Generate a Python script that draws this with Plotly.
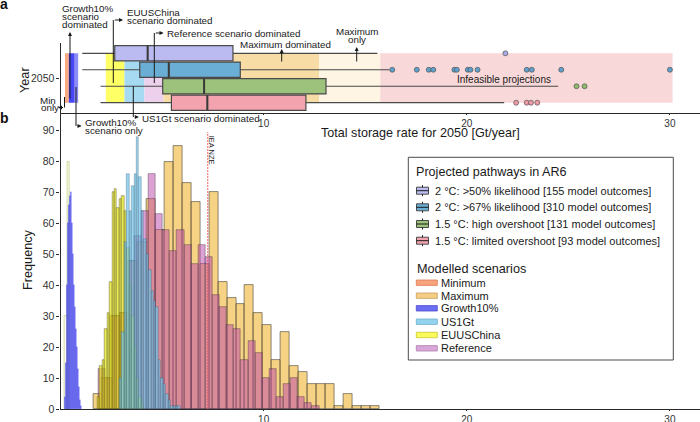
import numpy as np
import plotly.graph_objects as go

W, H = 700, 422
FONT = "Liberation Sans, Arial, Helvetica, sans-serif"

# ---------------- panel b: histogram data (bin start, bin width, counts) ----------------
min_start, min_width = 0.22, 0.10
min_counts = [30, 80]

max_start, max_width = 1.60, 0.44
max_counts = [5, 10, 30, 31, 48, 54, 68, 58, 80, 85, 73, 67, 47, 70, 41, 36,
              34, 40, 31, 27, 16, 25, 14, 12, 8, 8, 8, 1, 5, 1, 1, 1]

ref_start, ref_width = 1.88, 0.35
ref_counts = [13, 10, 30, 31, 48, 56, 64, 76, 63, 58, 51, 58, 53, 47, 53, 49,
              37, 33, 27, 26, 16, 22, 18, 10, 13, 4, 8, 10, 4, 2, 1]

euus_start, euus_width = 1.82, 0.12
euus_counts = [4, 14, 16, 26, 31, 41, 70, 71, 65, 68, 69, 64, 52, 40, 30, 20, 10, 4, 2]

us1_start, us1_width = 2.90, 0.12
us1_counts = [10, 25, 54, 76, 64, 72, 76, 88, 75, 64, 55, 50, 45, 38, 35, 33,
              16, 10, 8, 5, 3, 1, 1, 1, 1]

g10_start, g10_width = 0.20, 0.05
g10_counts = [4, 15, 40, 60, 66, 69, 70, 60, 50, 40, 33, 26, 20, 13, 7, 3, 1]

iea_nze = 7.25

# ---------------- panel a: box plot data ----------------
box_labels = ["2 \u00b0C: >50% likelihood [155 model outcomes]",
              "2 \u00b0C: >67% likelihood [310 model outcomes]",
              "1.5 \u00b0C: high overshoot [131 model outcomes]",
              "1.5 \u00b0C: limited overshoot [93 model outcomes]"]
box_pos = [4, 3, 2, 1]
box_q1 = [2.67, 3.90, 5.03, 5.46]
box_med = [4.29, 5.33, 7.07, 7.23]
box_q3 = [8.49, 8.85, 13.07, 12.08]
box_lo = [1.07, 1.07, 1.97, 1.97]
box_hi = [15.6, 16.2, 24.5, 21.84]
box_out = [[21.9],
           [16.33, 17.54, 18.13, 18.35, 19.39, 19.51, 20.05, 20.18, 20.53, 22.95, 23.2, 24.65, 30.0],
           [25.4, 25.8],
           [22.43, 22.95, 23.16, 23.47]]

# shaded regions in panel a
reg_lo = [0.22, 0.41, 0.70, 2.23, 3.15, 4.13, 5.07, 12.74, 15.74]
reg_hi = [0.41, 0.70, 0.87, 3.15, 4.13, 5.07, 12.74, 15.74, 30.13]
reg_y = [1, 4]

scen_names = ["Minimum", "Maximum", "Growth10%", "US1Gt", "EUUSChina", "Reference"]

# ---------------- styles ----------------
reg_colors = ["#F8AA80", "#4646F5", "#8C8CF7", "#FFFF66", "#A6DAF2",
              "#ECD0EC", "#F7DCA6", "#FEF5E4", "#F8D8D8"]
box_fill = ["#BBBBF2", "#6AAED6", "#9CC27B", "#F3A3AE"]
out_fill = ["#A9A9E8", "#5E9FCC", "#8DBA6A", "#EE9AA6"]
scen_patch = ["#F7A47C", "#F5CE85", "#6E6EF2", "#93D3EE", "#FAFA5A", "#D9A6D9"]
scen_edge = ["#E07A50", "#C9A060", "#4A4AD0", "#6AAFCF", "#C8C830", "#B080B0"]


def PX(x):
    return x / W


def PY(y):
    return 1 - y / H


fig = go.Figure()


def add_hist(start, width, counts, fill, line, lw):
    c = np.asarray(counts, dtype=float)
    centers = start + width * (np.arange(len(c)) + 0.5)
    fig.add_trace(go.Bar(x=centers, y=c, width=width, xaxis="x", yaxis="y",
                         marker=dict(color=fill, line=dict(color=line, width=lw)),
                         showlegend=False, hoverinfo="skip"))


add_hist(min_start, min_width, min_counts, "rgba(250,160,110,0.06)", "rgba(185,210,120,0.9)", 0.8)
add_hist(max_start, max_width, max_counts, "rgba(240,180,50,0.6)", "rgba(40,40,40,0.65)", 0.8)
add_hist(ref_start, ref_width, ref_counts, "rgba(188,70,170,0.5)", "rgba(50,40,50,0.55)", 0.7)
add_hist(euus_start, euus_width, euus_counts, "rgba(225,225,20,0.7)", "rgba(50,50,10,0.6)", 0.6)
add_hist(us1_start, us1_width, us1_counts, "rgba(110,195,235,0.7)", "rgba(40,60,80,0.55)", 0.5)
add_hist(g10_start, g10_width, g10_counts, "rgba(50,50,240,0.72)", "rgba(60,60,230,0.6)", 0.3)

# IEA NZE line
fig.add_shape(type="line", xref="x", yref="y", x0=iea_nze, x1=iea_nze, y0=0, y1=89.5,
              line=dict(color="rgba(235,80,80,0.9)", width=1, dash="2px,1px"))
fig.add_annotation(x=iea_nze, xref="x", xshift=4.5, y=PY(150), yref="paper", text="IEA NZE",
                   textangle=90, showarrow=False, font=dict(size=7.5, color="#222"))

# shaded regions panel a
for lo, hi, col in zip(reg_lo, reg_hi, reg_colors):
    fig.add_shape(type="rect", xref="x2", yref="y2", x0=lo, x1=hi, y0=reg_y[0], y1=reg_y[1],
                  fillcolor=col, line=dict(width=0), layer="below")

# boxes
BW = 0.93
for i in range(4):
    fig.add_trace(go.Box(orientation="h", y=[box_pos[i]], q1=[box_q1[i]], median=[box_med[i]],
                         q3=[box_q3[i]], lowerfence=[box_lo[i]], upperfence=[box_hi[i]],
                         xaxis="x2", yaxis="y2", width=BW, whiskerwidth=0,
                         fillcolor=box_fill[i], line=dict(color="#4a4a4a", width=1.2),
                         boxpoints=False, showlegend=False, hoverinfo="skip"))
    fig.add_trace(go.Scatter(x=[box_med[i], box_med[i]],
                             y=[box_pos[i] - BW / 2, box_pos[i] + BW / 2],
                             mode="lines", line=dict(color="#3a3a3a", width=2),
                             xaxis="x2", yaxis="y2", showlegend=False, hoverinfo="skip"))
    fig.add_trace(go.Scatter(x=box_out[i], y=[box_pos[i]] * len(box_out[i]), mode="markers",
                             marker=dict(size=5, color=out_fill[i], line=dict(color="#555", width=0.7)),
                             xaxis="x2", yaxis="y2", showlegend=False, hoverinfo="skip"))

# ---------------- annotations panel a ----------------
TXT = "#1a1a1a"


def text(x, y, s, size=9.8, anchor="left", **kw):
    fig.add_annotation(x=PX(x), y=PY(y), xref="paper", yref="paper", text=s, showarrow=False,
                       xanchor=anchor, yanchor="middle", font=dict(size=size, color=TXT), **kw)


def seg(x0, y0, x1, y1, w=1):
    fig.add_shape(type="line", xref="paper", yref="paper", x0=PX(x0), y0=PY(y0), x1=PX(x1), y1=PY(y1),
                  line=dict(color="#1a1a1a", width=w))


def arrow(hx, hy, tx, ty):
    fig.add_annotation(x=PX(hx), y=PY(hy), xref="paper", yref="paper", text="", showarrow=True,
                       ax=tx - hx, ay=ty - hy, arrowhead=2, arrowsize=0.8, arrowwidth=1,
                       arrowcolor="#1a1a1a", standoff=0, startstandoff=0)


text(59.5, 8.3, "Growth10%")
text(59.5, 16.4, "scenario")
text(59.5, 24.5, "dominated")
arrow(70, 32, 70, 100)

text(125, 12.2, "EUUSChina")
text(125, 20.2, "scenario dominated")
seg(113.3, 83, 113.3, 20)
arrow(123, 20, 113.3, 20)

text(165, 33.3, "Reference scenario dominated")
seg(154.3, 83, 154.3, 33)
arrow(163.5, 33, 154.3, 33)

text(238, 44.3, "Maximum dominated")
arrow(281.7, 49, 281.7, 63)

text(357, 31.3, "Maximum", anchor="center")
text(357, 40, "only", anchor="center")
arrow(356.7, 47, 356.7, 63)

text(504, 80, "Infeasible projections", size=10, anchor="center")

text(38, 100, "Min")
text(38.5, 107.8, "only")
seg(64.5, 97, 64.5, 107.5)
arrow(58, 107.5, 64.5, 107.5)

text(82.5, 122.6, "Growth10%")
text(82.5, 130.2, "scenario only")
seg(76, 87, 76, 126)
arrow(81.5, 126, 76, 126)

text(140, 118.3, "US1Gt scenario dominated")
seg(133.3, 86, 133.3, 117)
arrow(138.8, 117, 133.3, 117)

# axis titles & panel labels
text(420, 133, "Total storage rate for 2050 [Gt/year]", size=12.6, anchor="center")
text(25, 80, "Year", size=12.7, anchor="center", textangle=-90)
text(28, 260, "Frequency", size=12.7, anchor="center", textangle=-90)
fig.add_annotation(x=PX(4), y=PY(4), xref="paper", yref="paper", text="<b>a</b>", showarrow=False,
                   font=dict(size=14, color="#111"), xanchor="center", yanchor="middle")
fig.add_annotation(x=PX(4.5), y=PY(118), xref="paper", yref="paper", text="<b>b</b>", showarrow=False,
                   font=dict(size=14, color="#111"), xanchor="center", yanchor="middle")

# ---------------- custom legend ----------------
fig.add_shape(type="rect", xref="paper", yref="paper", x0=PX(408.3), x1=PX(673.3), y0=PY(157.3), y1=PY(360),
              line=dict(color="#4a4a4a", width=1), fillcolor="white", layer="above")
text(414, 172, "Projected pathways in AR6", size=12.6)
item_y = [190.7, 207.3, 224, 240.7]
for i in range(4):
    yc = item_y[i]
    fig.add_shape(type="rect", xref="paper", yref="paper", x0=PX(416.5), x1=PX(428.5),
                  y0=PY(yc - 3.5), y1=PY(yc + 3.5), fillcolor=box_fill[i],
                  line=dict(color="#4a4a4a", width=1), layer="above")
    seg(416.5, yc, 428.5, yc, 1)
    seg(422.5, yc - 5.5, 422.5, yc - 3.5, 1)
    seg(422.5, yc + 3.5, 422.5, yc + 5.5, 1)
    text(433, yc, box_labels[i], size=11)

text(415, 269, "Modelled scenarios", size=12.7)
patch_y = [282.7, 295.7, 308.3, 321.7, 335, 348.3]
for i in range(6):
    yc = patch_y[i]
    fig.add_shape(type="rect", xref="paper", yref="paper", x0=PX(416.3), x1=PX(437.3),
                  y0=PY(yc - 2.7), y1=PY(yc + 2.7), fillcolor=scen_patch[i],
                  line=dict(color=scen_edge[i], width=0.8), layer="above")
    text(438.6, yc, scen_names[i], size=11)

# ---------------- layout ----------------
XR = [0, 31.48]
ax_common = dict(showgrid=False, zeroline=False, showline=True, linecolor="#2a2a2a", linewidth=1.1,
                 ticks="outside", tickcolor="#2a2a2a", tickfont=dict(size=10.5, color="#333"),
                 automargin=False)
fig.update_layout(
    width=W, height=H, margin=dict(l=0, r=0, t=0, b=0),
    paper_bgcolor="white", plot_bgcolor="white",
    font=dict(family=FONT, color="#222"),
    barmode="overlay", bargap=0, hovermode=False, showlegend=False,
    xaxis=dict(domain=[PX(60.5), 1], range=XR, anchor="y", tickvals=[10, 20, 30], ticklen=1, **ax_common),
    yaxis=dict(domain=[PY(409), PY(113)], range=[0, 95.7], anchor="x", dtick=10, tick0=0, ticklen=3,
               **ax_common),
    xaxis2=dict(domain=[PX(60.5), 1], range=XR, anchor="y2", tickvals=[10, 20, 30], ticklen=1,
                **ax_common),
    yaxis2=dict(domain=[PY(113), PY(43)], range=[0.375, 4.625], anchor="x2", tickvals=[2.5],
                ticktext=["2050"], ticklen=3, **ax_common),
)
fig.update_xaxes(tickfont=dict(size=10))

fig.write_html("out.html", config={"displayModeBar": False},
               post_script="document.body.style.margin='0';document.body.style.padding='0';"
                           "document.body.style.overflow='hidden';")
